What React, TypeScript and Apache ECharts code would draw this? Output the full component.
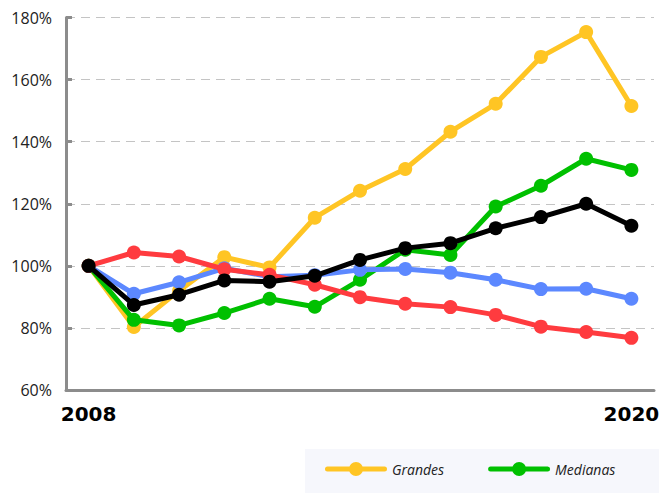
import React, { useEffect, useRef } from "react";
import * as echarts from "echarts";

const years = ["2008","2009","2010","2011","2012","2013","2014","2015","2016","2017","2018","2019","2020"];
const grandes = [100, 80.3, 92, 102.8, 99.5, 115.5, 124.2, 131.2, 143.2, 152.2, 167.3, 175.3, 151.5];
const medianas = [100, 82.6, 80.8, 84.8, 89.4, 86.8, 95.5, 105.2, 103.5, 119.1, 125.8, 134.5, 130.9];
const pequenas = [100, 91.0, 94.7, 99.2, 96.5, 97.0, 98.7, 99.0, 97.8, 95.5, 92.5, 92.6, 89.4];
const micro = [100, 104.3, 103.0, 98.9, 97.1, 93.9, 89.9, 87.8, 86.7, 84.2, 80.4, 78.7, 76.8];
const total = [100, 87.4, 90.7, 95.3, 94.9, 96.8, 101.9, 105.7, 107.3, 112.1, 115.7, 120.0, 112.9];
const yTicks = { min: 60, max: 180, interval: 20 };

const W = 1000;
const H = 493;

const legendIcon =
  "path://M2.5,4.5 L59.5,4.5 A2.5,2.5 0 0 1 59.5,9.5 L2.5,9.5 A2.5,2.5 0 0 1 2.5,4.5 Z M24,7 A7,7 0 1 1 38,7 A7,7 0 1 1 24,7 Z M0,0 L0.01,0 L0.01,0.01 Z M62,14 L61.99,14 L61.99,13.99 Z";

export default function App() {
  const ref = useRef<HTMLDivElement>(null);
  useEffect(() => {
    if (!ref.current) return;
    const chart = echarts.init(ref.current, null, { renderer: "svg" });
    const mk = (name: string, data: number[], color: string, z: number) => ({
      name,
      type: "line",
      data,
      z,
      symbol: "circle",
      symbolSize: 14,
      lineStyle: { width: 5, color },
      itemStyle: { color },
      emphasis: { disabled: true },
    });
    chart.setOption({
      animation: false,
      grid: { left: 66, top: 17.5, right: W - 654, bottom: H - 390 },
      legend: {
        left: 305,
        top: 449,
        orient: "horizontal",
        backgroundColor: "#f6f7fc",
        padding: [13, 20, 13, 20],
        itemWidth: 62,
        itemHeight: 14,
        itemGap: 44,
        icon: legendIcon,
        textStyle: { fontFamily: "Open Sans", fontStyle: "italic", fontSize: 14, color: "#222" },
        data: ["Grandes", "Medianas", "Pequeñas", "Micro", "Total"],
      },
      xAxis: {
        type: "category",
        data: years,
        boundaryGap: true,
        axisLine: { lineStyle: { color: "#8c8c8c", width: 3 } },
        axisTick: { show: false },
        axisLabel: {
          interval: 0,
          margin: 14,
          formatter: (v: string, i: number) => (i === 0 || i === years.length - 1 ? v : ""),
          fontFamily: "DejaVu Sans",
          fontWeight: "bold",
          fontSize: 20,
          color: "#000",
        },
        splitLine: { show: false },
      },
      yAxis: {
        type: "value",
        min: yTicks.min,
        max: yTicks.max,
        interval: yTicks.interval,
        axisLine: { show: true, lineStyle: { color: "#8c8c8c", width: 3 } },
        axisTick: { show: true, inside: true, length: 6, lineStyle: { color: "#8c8c8c", width: 3 } },
        axisLabel: {
          formatter: "{value}%",
          margin: 14,
          fontFamily: "Open Sans",
          fontSize: 16,
          color: "#222",
        },
        splitLine: { lineStyle: { color: "#c4c4c4", width: 1, type: [9, 6] } },
      },
      series: [
        mk("Grandes", grandes, "#ffc524", 2),
        mk("Medianas", medianas, "#00c000", 3),
        mk("Pequeñas", pequenas, "#5c88ff", 4),
        mk("Micro", micro, "#ff3b3f", 5),
        mk("Total", total, "#000000", 6),
      ],
    });
    return () => chart.dispose();
  }, []);
  return (
    <div style={{ position: "fixed", left: 0, top: 0, width: 659, height: H, overflow: "hidden", background: "#fff" }}>
      <div ref={ref} style={{ width: W, height: H }} />
    </div>
  );
}
